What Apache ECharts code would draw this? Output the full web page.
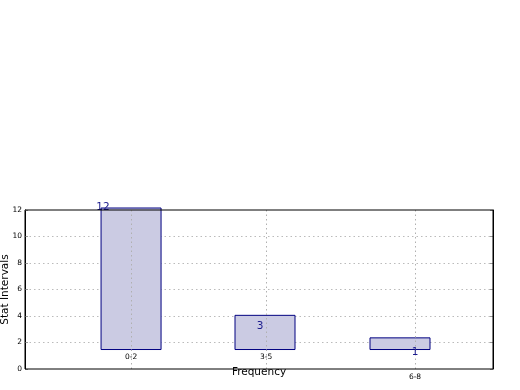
<!DOCTYPE html>
<html><head><meta charset="utf-8">
<script src="https://cdn.jsdelivr.net/npm/echarts@6/dist/echarts.min.js"></script>
<style>html,body{margin:0;padding:0;background:#fff}#c{width:520px;height:390px}</style>
</head><body><div id="c"></div>
<script>
// Data
const categories = ['0-2', '3-5', '6-8'];
const tickPos = [0.707, 1.607, 2.6];          // x positions of the category ticks
const tickLabelY = [0.9, 0.9, -0.6];           // y (value units) at which tick labels sit
const barLeft = [0.507, 1.4, 2.3];             // left edge of each bar (x units)
const barWidthUnits = 0.4;
const barBase = 1.47;
const barTop = [12.15, 4.05, 2.35];
const valueLabels = ['12', '3', '1'];
const valueLabelX = [0.52, 1.567, 2.6];
const valueLabelY = [12.2, 3.25, 1.28];
const yTicks = [0, 2, 4, 6, 8, 10, 12];
const yMin = 0, yMax = 12;

const chart = echarts.init(document.getElementById('c'));
const font = 'DejaVu Sans';
chart.setOption({
  animation: false,
  backgroundColor: '#fff',
  grid: { left: 25, right: 27, top: 210, bottom: 21, show: true, borderColor: '#000', borderWidth: 1, containLabel: false, outerBoundsMode: 'none', z: 10 },
  xAxis: {
    type: 'value', min: 0, max: 3.12,
    name: 'Frequency', nameLocation: 'middle', nameGap: -2, nameMoveOverlap: false,
    nameTextStyle: { fontFamily: font, fontSize: 10.5, color: '#000' },
    axisLine: { show: false }, axisTick: { show: false }, axisLabel: { show: false }, splitLine: { show: false }
  },
  yAxis: [{
    type: 'value', min: yMin, max: yMax, interval: 2,
    name: 'Stat Intervals', nameLocation: 'middle', nameGap: 14, nameMoveOverlap: false,
    nameTextStyle: { fontFamily: font, fontSize: 10.5, color: '#000' },
    axisLine: { show: true, lineStyle: { color: '#000', width: 1 } },
    axisTick: { show: true, inside: true, length: 3, lineStyle: { color: '#999' } },
    axisLabel: { fontFamily: font, fontSize: 7.5, color: '#000', margin: 3 },
    splitLine: { show: true, showMinLine: false, showMaxLine: false, lineStyle: { color: '#bbb', type: [1.5, 3], width: 1 } }
  }, {
    type: 'value', min: yMin, max: yMax, interval: 2, position: 'right',
    axisLine: { show: true, lineStyle: { color: '#000', width: 1 } },
    axisTick: { show: true, inside: true, length: 3, lineStyle: { color: '#999' } },
    axisLabel: { show: false }, splitLine: { show: false }
  }],
  series: [
    {
      type: 'custom',
      data: barLeft.map((l, i) => [l, barTop[i]]),
      renderItem: function (params, api) {
        const l = api.value(0), t = api.value(1);
        const p1 = api.coord([l, t]);
        const p2 = api.coord([l + barWidthUnits, barBase]);
        return {
          type: 'rect',
          shape: { x: p1[0], y: p1[1], width: p2[0] - p1[0], height: p2[1] - p1[1] },
          style: { fill: '#cbcbe3', stroke: '#000080', lineWidth: 1 }
        };
      },
      z: 2
    },
    {
      type: 'custom',
      clip: false,
      data: tickPos.map((x, i) => [x, tickLabelY[i], i]),
      renderItem: function (params, api) {
        const x = api.value(0);
        const p = api.coord([x, api.value(1)]);
        const a = api.coord([x, yMin]);
        const b = api.coord([x, yMax]);
        return {
          type: 'group',
          children: [
            {
              type: 'line',
              shape: { x1: Math.round(a[0]) + 0.5, y1: a[1], x2: Math.round(b[0]) + 0.5, y2: b[1] },
              style: { stroke: '#b0b0b0', lineWidth: 1, lineDash: [1.5, 3] }
            },
            {
              type: 'text',
              style: { x: p[0], y: p[1], text: categories[api.value(2)], fill: '#000', font: '7.5px "DejaVu Sans"', align: 'center', verticalAlign: 'middle' }
            }
          ]
        };
      },
      z: 3
    },
    {
      type: 'custom',
      clip: false,
      data: valueLabelX.map((x, i) => [x, valueLabelY[i], i]),
      renderItem: function (params, api) {
        const p = api.coord([api.value(0), api.value(1)]);
        return {
          type: 'text',
          style: { x: p[0], y: p[1], text: valueLabels[api.value(2)], fill: '#1a1a8c', font: '10.5px "DejaVu Sans"', align: 'center', verticalAlign: 'middle' }
        };
      },
      z: 4
    }
  ]
});
</script></body></html>
